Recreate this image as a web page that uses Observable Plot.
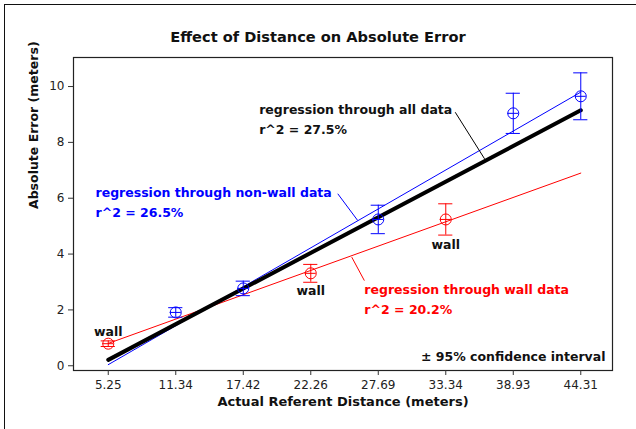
<!DOCTYPE html>
<html><head><meta charset="utf-8">
<script src="https://cdn.jsdelivr.net/npm/d3@7"></script>
<script src="https://cdn.jsdelivr.net/npm/@observablehq/plot@0.6"></script>
<style>
body{margin:0;background:#fff;font-family:"DejaVu Sans",sans-serif;}
#wrap{position:relative;width:636px;height:429px;overflow:hidden;background:#fff;}
#outer{position:absolute;left:4px;top:4px;width:700px;height:600px;border:1.5px solid #111;box-sizing:border-box;pointer-events:none;}
#title{position:relative;height:50px;box-sizing:border-box;padding-top:27px;text-align:center;font-weight:bold;font-size:14.6px;line-height:20px;color:#111;margin:0;}
#chart{position:relative;}
</style>
</head><body>
<div id="wrap">
  <div id="outer"></div>
  <h1 id="title">Effect of Distance on Absolute Error</h1>
  <div id="chart"></div>
</div>
<script>
// ---- data ----
const distLabels = ["5.25","11.34","17.42","22.26","27.69","33.34","38.93","44.31"];
const groups     = ["wall","non-wall","non-wall","wall","non-wall","wall","non-wall","non-wall"];
const meanError  = [0.79, 1.91, 2.77, 3.31, 5.24, 5.24, 9.04, 9.65];
const ci95       = [0.10, 0.17, 0.26, 0.32, 0.51, 0.56, 0.72, 0.84];
const yTicks     = [0, 2, 4, 6, 8, 10];
// regression line end points (index of first and last distance)
const regEndIndex  = [0, 7];
const regAllY      = [0.21, 9.15];
const regNonWallY  = [0.04, 9.80];
const regWallY     = [0.80, 6.90];
const r2All = "27.5%", r2NonWall = "26.5%", r2Wall = "20.2%";

const BLUE = "#0000ff", RED = "#ff0000", INK = "#111";
const colorOf = g => g === "wall" ? RED : BLUE;

const points = distLabels.map((d, i) => ({i, dist: d, group: groups[i], y: meanError[i], ci: ci95[i]}));
const line = ys => regEndIndex.map((x, k) => ({x, y: ys[k]}));
const capHalf = 0.105;
const crossHalf = 0.082;

const plot = Plot.plot({
  width: 636, height: 379,
  marginLeft: 73, marginRight: 24, marginTop: 7, marginBottom: 59,
  style: {fontFamily: "DejaVu Sans, sans-serif", fontSize: "12px", color: "#222", background: "transparent", overflow: "visible"},
  x: {domain: [-0.515, 7.47]},
  y: {domain: [-0.17, 11.04]},
  marks: [
    Plot.frame({stroke: "#222", strokeWidth: 1.2}),
    Plot.axisX(d3.range(distLabels.length), {tickFormat: i => distLabels[i], tickSize: 5, tickPadding: 5, label: null, fontSize: 12, stroke: "#333"}),
    Plot.axisY(yTicks, {tickSize: 5, tickPadding: 4, label: null, fontSize: 12, stroke: "#333"}),
    Plot.text(["Actual Referent Distance (meters)"], {frameAnchor: "bottom", dy: 35, fontWeight: "bold", fontSize: 13, fill: INK}),
    Plot.text(["Absolute Error (meters)"], {frameAnchor: "left", rotate: -90, dx: -40, dy: -5, fontWeight: "bold", fontSize: 12.5, fill: INK}),
    // regression lines
    Plot.line(line(regWallY), {x: "x", y: "y", stroke: RED, strokeWidth: 1}),
    Plot.line(line(regNonWallY), {x: "x", y: "y", stroke: BLUE, strokeWidth: 1}),
    Plot.line(line(regAllY), {x: "x", y: "y", stroke: "#000", strokeWidth: 4}),
    // error bars
    Plot.ruleX(points, {x: "i", y1: d => d.y - d.ci, y2: d => d.y + d.ci, stroke: d => colorOf(d.group), strokeWidth: 1}),
    Plot.ruleY(points, {y: d => d.y + d.ci, x1: d => d.i - capHalf, x2: d => d.i + capHalf, stroke: d => colorOf(d.group), strokeWidth: 1}),
    Plot.ruleY(points, {y: d => d.y - d.ci, x1: d => d.i - capHalf, x2: d => d.i + capHalf, stroke: d => colorOf(d.group), strokeWidth: 1}),
    Plot.dot(points, {x: "i", y: "y", r: 5.5, stroke: d => colorOf(d.group), fill: "none", strokeWidth: 1}),
    Plot.ruleY(points, {y: "y", x1: d => d.i - crossHalf, x2: d => d.i + crossHalf, stroke: d => colorOf(d.group), strokeWidth: 1}),
    // wall labels
    Plot.text(points.filter(d => d.i === 0), {x: "i", y: "y", text: () => "wall", dy: -12, fontWeight: "bold", fontSize: 12.5, fill: INK}),
    Plot.text(points.filter(d => d.i === 3), {x: "i", y: "y", text: () => "wall", dy: 18, fontWeight: "bold", fontSize: 12.5, fill: INK}),
    Plot.text(points.filter(d => d.i === 5), {x: "i", y: "y", text: () => "wall", dy: 26, fontWeight: "bold", fontSize: 12.5, fill: INK}),
    // annotations
    Plot.text([`regression through all data\nr^2 = ${r2All}`], {x: 2.235, y: 8.89, textAnchor: "start", lineAnchor: "middle", lineHeight: 1.65, fontWeight: "bold", fontSize: 12.5, fill: INK}),
    Plot.link([0], {x1: 5.14, y1: 9.08, x2: 5.575, y2: 7.41, stroke: "#000", strokeWidth: 1}),
    Plot.text([`regression through non-wall data\nr^2 = ${r2NonWall}`], {x: -0.189, y: 5.92, textAnchor: "start", lineAnchor: "middle", lineHeight: 1.6, fontWeight: "bold", fontSize: 12.5, fill: BLUE}),
    Plot.link([0], {x1: 3.40, y1: 6.16, x2: 3.696, y2: 5.20, stroke: BLUE, strokeWidth: 1}),
    Plot.text([`regression through wall data\nr^2 = ${r2Wall}`], {x: 3.794, y: 2.456, textAnchor: "start", lineAnchor: "middle", lineHeight: 1.6, fontWeight: "bold", fontSize: 12.5, fill: RED}),
    Plot.link([0], {x1: 3.794, y1: 3.05, x2: 3.607, y2: 3.89, stroke: RED, strokeWidth: 1}),
    Plot.text(["± 95% confidence interval"], {frameAnchor: "bottom-right", textAnchor: "end", dx: -7, dy: -10, fontWeight: "bold", fontSize: 12.5, fill: INK})
  ]
});
document.getElementById("chart").appendChild(plot);
</script>
</body></html>
